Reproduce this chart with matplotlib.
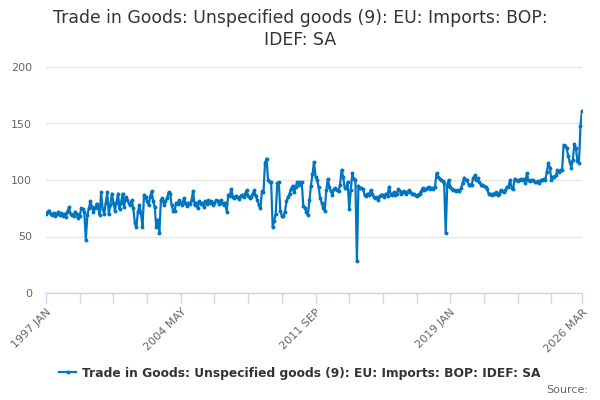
import matplotlib
matplotlib.use("Agg")
import matplotlib.pyplot as plt
import numpy as np

title = "Trade in Goods: Unspecified goods (9): EU: Imports: BOP:\nIDEF: SA"
series_name = "Trade in Goods: Unspecified goods (9): EU: Imports: BOP: IDEF: SA"
start_year, start_month = 1997, 1

values = [
    # 1997
    70, 72, 73, 70, 69, 71, 68, 70, 72, 69, 71, 68,
    # 1998
    70, 67, 72, 76, 70, 69, 68, 72, 70, 66, 68, 75,
    # 1999
    74, 72, 47, 69, 75, 81, 76, 72, 75, 79, 76, 69,
    # 2000
    89, 74, 70, 80, 89, 70, 78, 88, 80, 73, 80, 88,
    # 2001
    74, 80, 88, 76, 85, 82, 80, 78, 82, 75, 62, 58,
    # 2002
    72, 78, 71, 58, 87, 85, 81, 78, 85, 90, 81, 76,
    # 2003
    58, 65, 53, 82, 84, 78, 81, 84, 89, 88, 78, 73,
    # 2004
    73, 80, 79, 82, 80, 78, 84, 80, 77, 80, 79, 82,
    # 2005
    90, 78, 80, 75, 81, 79, 80, 76, 81, 79, 82, 80,
    # 2006
    81, 78, 80, 82, 81, 79, 82, 80, 78, 80, 72, 87,
    # 2007
    86, 92, 85, 84, 86, 85, 83, 86, 87, 85, 88, 91,
    # 2008
    86, 84, 85, 88, 91, 86, 82, 78, 75, 90, 89, 115,
    # 2009
    119, 100, 98, 98, 58, 64, 70, 97, 98, 73, 68, 68,
    # 2010
    72, 81, 85, 88, 92, 95, 89, 94, 98, 96, 98, 98,
    # 2011
    77, 75, 72, 69, 82, 95, 105, 116, 103, 100, 94, 84,
    # 2012
    80, 75, 73, 91, 101, 94, 90, 87, 92, 93, 91, 90,
    # 2013
    96, 109, 103, 93, 93, 98, 74, 91, 106, 101, 100, 28,
    # 2014
    95, 93, 93, 92, 87, 86, 88, 87, 91, 88, 85, 84,
    # 2015
    85, 82, 86, 87, 87, 85, 88, 86, 94, 88, 87, 89,
    # 2016
    87, 88, 92, 90, 88, 89, 90, 88, 89, 91, 89, 88,
    # 2017
    88, 87, 86, 87, 88, 90, 93, 91, 92, 93, 94, 92,
    # 2018
    93, 92, 94, 106, 103, 101, 100, 99, 97, 53, 95, 100,
    # 2019
    94, 92, 91, 91, 90, 91, 90, 93, 97, 102, 100, 100,
    # 2020
    96, 96, 96, 102, 104, 100, 102, 98, 96, 96, 95, 94,
    # 2021
    92, 88, 88, 87, 88, 88, 89, 87, 88, 91, 90, 89,
    # 2022
    91, 94, 94, 100, 93, 92, 101, 100, 99, 100, 101, 100,
    # 2023
    101, 97, 106, 100, 99, 100, 100, 98, 98, 99, 97, 100,
    # 2024
    100, 101, 100, 107, 115, 111, 100, 103, 103, 104, 109, 107,
    # 2025
    109, 109, 131, 130, 128, 121, 116, 111, 118, 132, 128, 117,
    # 2026
    115, 148, 161,
]

month_names = ["JAN", "FEB", "MAR", "APR", "MAY", "JUN",
               "JUL", "AUG", "SEP", "OCT", "NOV", "DEC"]
labels = []
for i in range(len(values)):
    mi = start_month - 1 + i
    labels.append(f"{start_year + mi // 12} {month_names[mi % 12]}")

y_ticks = [0, 50, 100, 150, 200]

line_color = "#0075c0"
text_color = "#333333"
tick_color = "#666666"
grid_color = "#e6e6e6"
axis_color = "#ccd6eb"

fig = plt.figure(figsize=(6, 4), dpi=100)
ax = fig.add_axes([0.0767, 0.2675, 0.8933, 0.565])

x = np.arange(len(values))
ax.plot(x, values, color=line_color, linewidth=1.6, marker="o", markersize=2.8,
        markeredgewidth=0, label=series_name, zorder=3)

n = len(values)
ax.set_xlim(0, n - 1)
ax.set_ylim(0, 200)
ax.set_yticks(y_ticks)
ax.set_yticklabels([str(v) for v in y_ticks])
ax.grid(axis="y", color=grid_color, linewidth=1)
ax.set_axisbelow(True)

minor = list(range(0, n, 22))
if minor[-1] != n - 1:
    minor.append(n - 1)
ax.set_xticks(minor)
major_idx = [0, 88, 176, 264, n - 1]
ax.set_xticklabels([labels[i] if i in major_idx else "" for i in minor],
                   rotation=45, ha="right", rotation_mode="anchor",
                   fontsize=8, color=tick_color)
ax.tick_params(axis="x", length=7, width=1, color=axis_color, pad=3)
ax.tick_params(axis="y", length=0, labelsize=8, labelcolor=tick_color, pad=10)

for s in ["top", "right", "left"]:
    ax.spines[s].set_visible(False)
ax.spines["bottom"].set_color(axis_color)
ax.spines["bottom"].set_linewidth(1)

fig.text(0.5, 0.977, title, ha="center", va="top", fontsize=12.4,
         color=text_color, linespacing=1.3)

leg = fig.legend(loc="center", bbox_to_anchor=(0.5, 0.067), frameon=False,
                 prop={"weight": "bold", "size": 8.8}, handlelength=1.4,
                 handletextpad=0.5, labelcolor=text_color)

fig.text(0.98, 0.025, "Source:", ha="right", va="center", fontsize=8,
         color=tick_color)

fig.savefig("out.png", dpi=100, facecolor="white")
